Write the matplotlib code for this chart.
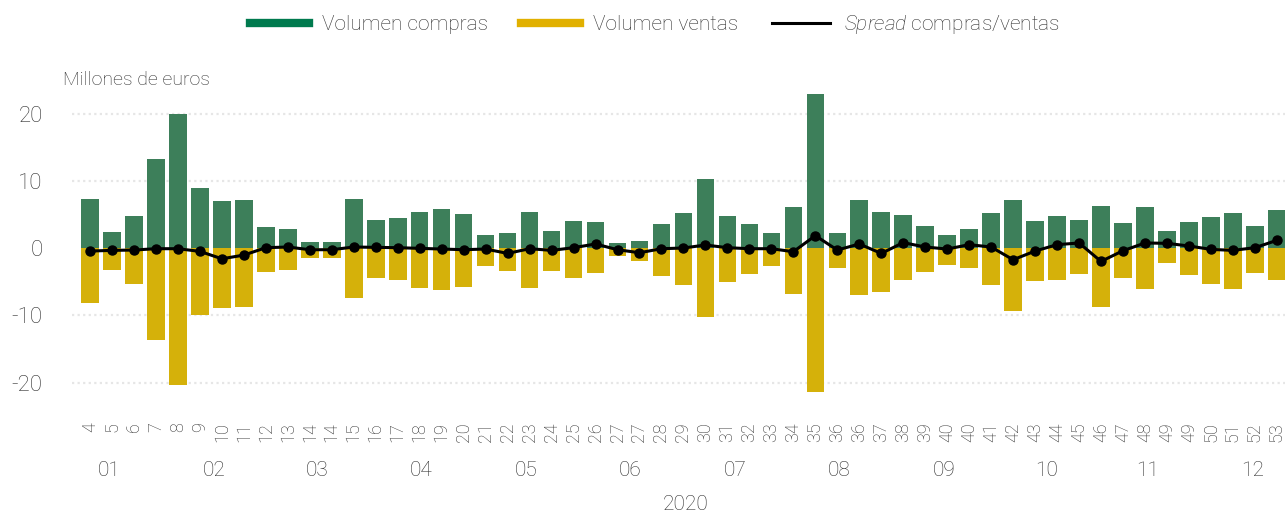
import matplotlib
matplotlib.use('Agg')
import matplotlib.pyplot as plt
import matplotlib.transforms as mtransforms
from matplotlib.lines import Line2D
import numpy as np

plt.rcParams['font.family'] = ['Roboto', 'DejaVu Sans']
plt.rcParams['font.weight'] = 'light'
plt.rcParams['mathtext.fontset'] = 'custom'
plt.rcParams['mathtext.it'] = 'Roboto:italic:light'
plt.rcParams['mathtext.rm'] = 'Roboto:light'

weeks = ['4', '5', '6', '7', '8', '9', '10', '11', '12', '13', '14', '14', '15', '16', '17',
         '18', '19', '20', '21', '22', '23', '24', '25', '26', '27', '27', '28', '29', '30',
         '31', '32', '33', '34', '35', '36', '36', '37', '38', '39', '40', '40', '41', '42',
         '43', '44', '45', '46', '47', '48', '49', '49', '50', '51', '52', '53']
compras = [7.3, 2.4, 4.7, 13.3, 19.9, 9.0, 7.0, 7.2, 3.2, 2.9, 0.9, 0.9, 7.3, 4.1, 4.4,
           5.4, 5.8, 5.1, 1.9, 2.2, 5.3, 2.6, 4.0, 3.9, 0.7, 1.0, 3.6, 5.2, 10.2, 4.7,
           3.5, 2.2, 6.1, 22.9, 2.2, 7.2, 5.3, 4.9, 3.3, 1.9, 2.8, 5.2, 7.2, 4.0, 4.7,
           4.1, 6.3, 3.7, 6.1, 2.5, 3.8, 4.6, 5.2, 3.3, 5.6]
ventas = [-8.2, -3.2, -5.4, -13.7, -20.3, -10.0, -8.9, -8.7, -3.5, -3.3, -1.5, -1.5, -7.5, -4.4, -4.7,
          -6.0, -6.2, -5.8, -2.6, -3.4, -6.0, -3.4, -4.4, -3.7, -1.2, -2.0, -4.1, -5.5, -10.2, -5.0,
          -3.8, -2.6, -6.9, -21.4, -2.9, -7.0, -6.6, -4.7, -3.6, -2.5, -2.9, -5.5, -9.3, -4.9, -4.7,
          -3.8, -8.7, -4.5, -6.1, -2.2, -4.0, -5.3, -6.1, -3.7, -4.8]
spread = [-0.45, -0.35, -0.3, -0.1, -0.1, -0.5, -1.6, -1.05, 0.05, 0.15, -0.25, -0.25, 0.15, 0.1, 0.05,
          -0.05, -0.15, -0.25, -0.15, -0.8, -0.1, -0.35, 0.05, 0.6, -0.25, -0.7, -0.1, 0.0, 0.45, 0.05,
          -0.1, -0.1, -0.55, 1.84, -0.3, 0.6, -0.8, 0.8, 0.15, -0.15, 0.5, 0.15, -1.74, -0.45, 0.5,
          0.75, -1.99, -0.4, 0.75, 0.7, 0.3, -0.2, -0.35, 0.05, 1.14]
months = ['01', '02', '03', '04', '05', '06', '07', '08', '09', '10', '11', '12']
month_pos = [0.86, 5.64, 10.33, 15.06, 19.84, 24.57, 29.35, 34.08, 38.85, 43.5, 48.1, 52.9]

GREEN = '#3D7F5A'
YELLOW = '#D5B10A'
TXT = '#2e2e2e'

fig = plt.figure(figsize=(12.85, 5.13), dpi=100)
ax = fig.add_axes([72/1285, 113/513, 1 - 72/1285, 310/513])

x = np.arange(len(weeks))
ax.bar(x, compras, width=0.8, color=GREEN, zorder=2)
ax.bar(x, ventas, width=0.8, color=YELLOW, zorder=2)
ax.plot(x, spread, color='black', lw=2.2, marker='o', ms=6.5, zorder=3)

for yv in [-20, -10, 10, 20]:
    ax.axhline(yv, color='#e6e6e6', lw=1.6, ls=(0, (1, 1.5)), zorder=1)

ax.set_xlim(-0.82, 54.37)
ax.set_ylim(-22.6, 23.5)
ax.set_yticks([-20, -10, 0, 10, 20])
ax.set_yticklabels(['-20', '-10', '0', '10', '20'])
ax.set_xticks(x)
ax.set_xticklabels(weeks, rotation=90)
ax.tick_params(axis='y', length=0, pad=21, labelsize=16, labelcolor=TXT)
ax.tick_params(axis='x', length=0, pad=16, labelsize=13, labelcolor=TXT)
for s in ax.spines.values():
    s.set_visible(False)

trans = mtransforms.blended_transform_factory(ax.transData, ax.transAxes)
for m, p in zip(months, month_pos):
    ax.text(p, -0.226, m, transform=trans, ha='center', va='center', fontsize=15, color=TXT)
fig.text(686/1285, 1 - 505/513, '2020', ha='center', va='center', fontsize=15, color=TXT)
fig.text(63/1285, 1 - 80/513, 'Millones de euros', ha='left', va='center', fontsize=14, color=TXT)

handles = [Line2D([], [], color='#007A4E', lw=6),
           Line2D([], [], color='#E1B000', lw=6),
           Line2D([], [], color='black', lw=2.2)]
labels = ['Volumen compras', 'Volumen ventas', r'$\mathit{Spread}$ compras/ventas']
leg = fig.legend(handles, labels, loc='center', bbox_to_anchor=(655/1285, 1 - 25/513), ncol=3,
                 frameon=False, fontsize=15, handlelength=2.8, handletextpad=0.65, columnspacing=1.6)
for t in leg.get_texts():
    t.set_color(TXT)

fig.savefig('out.png', dpi=100)
